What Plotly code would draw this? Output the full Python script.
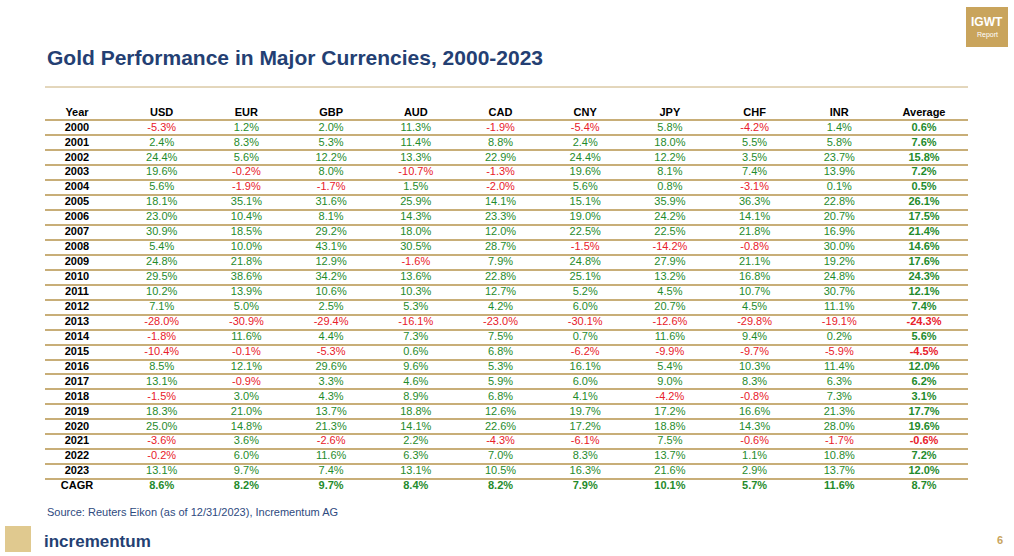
import plotly.graph_objects as go

years = [str(y) for y in range(2000, 2024)] + ["CAGR"]
currencies = ["USD", "EUR", "GBP", "AUD", "CAD", "CNY", "JPY", "CHF", "INR", "Average"]
USD = [-5.3,2.4,24.4,19.6,5.6,18.1,23.0,30.9,5.4,24.8,29.5,10.2,7.1,-28.0,-1.8,-10.4,8.5,13.1,-1.5,18.3,25.0,-3.6,-0.2,13.1,8.6]
EUR = [1.2,8.3,5.6,-0.2,-1.9,35.1,10.4,18.5,10.0,21.8,38.6,13.9,5.0,-30.9,11.6,-0.1,12.1,-0.9,3.0,21.0,14.8,3.6,6.0,9.7,8.2]
GBP = [2.0,5.3,12.2,8.0,-1.7,31.6,8.1,29.2,43.1,12.9,34.2,10.6,2.5,-29.4,4.4,-5.3,29.6,3.3,4.3,13.7,21.3,-2.6,11.6,7.4,9.7]
AUD = [11.3,11.4,13.3,-10.7,1.5,25.9,14.3,18.0,30.5,-1.6,13.6,10.3,5.3,-16.1,7.3,0.6,9.6,4.6,8.9,18.8,14.1,2.2,6.3,13.1,8.4]
CAD = [-1.9,8.8,22.9,-1.3,-2.0,14.1,23.3,12.0,28.7,7.9,22.8,12.7,4.2,-23.0,7.5,6.8,5.3,5.9,6.8,12.6,22.6,-4.3,7.0,10.5,8.2]
CNY = [-5.4,2.4,24.4,19.6,5.6,15.1,19.0,22.5,-1.5,24.8,25.1,5.2,6.0,-30.1,0.7,-6.2,16.1,6.0,4.1,19.7,17.2,-6.1,8.3,16.3,7.9]
JPY = [5.8,18.0,12.2,8.1,0.8,35.9,24.2,22.5,-14.2,27.9,13.2,4.5,20.7,-12.6,11.6,-9.9,5.4,9.0,-4.2,17.2,18.8,7.5,13.7,21.6,10.1]
CHF = [-4.2,5.5,3.5,7.4,-3.1,36.3,14.1,21.8,-0.8,21.1,16.8,10.7,4.5,-29.8,9.4,-9.7,10.3,8.3,-0.8,16.6,14.3,-0.6,1.1,2.9,5.7]
INR = [1.4,5.8,23.7,13.9,0.1,22.8,20.7,16.9,30.0,19.2,24.8,30.7,11.1,-19.1,0.2,-5.9,11.4,6.3,7.3,21.3,28.0,-1.7,10.8,13.7,11.6]
AVG = [0.6,7.6,15.8,7.2,0.5,26.1,17.5,21.4,14.6,17.6,24.3,12.1,7.4,-24.3,5.6,-4.5,12.0,6.2,3.1,17.7,19.6,-0.6,7.2,12.0,8.7]
series = [USD, EUR, GBP, AUD, CAD, CNY, JPY, CHF, INR, AVG]

GREEN = "#1f8b2c"
RED = "#e8202a"
GOLD = "#c8ae78"
NAVY = "#243f73"
FONT = "Liberation Sans, Arial, sans-serif"

fig = go.Figure()
nrows = len(years)
rows = list(range(1, nrows + 1))

fig.add_trace(go.Scatter(x=list(range(11)), y=[0]*11, mode="text",
                         text=["<b>Year</b>"] + [f"<b>{c}</b>" for c in currencies],
                         textfont=dict(family=FONT, size=11, color="black"),
                         hoverinfo="skip", showlegend=False))
fig.add_trace(go.Scatter(x=[0]*nrows, y=rows, mode="text",
                         text=[f"<b>{y}</b>" for y in years],
                         textfont=dict(family=FONT, size=11, color="black"),
                         hoverinfo="skip", showlegend=False))
for ci, vals in enumerate(series):
    txt = []
    for ri, v in enumerate(vals):
        s = f"{v:.1f}%"
        if ci == 9 or ri == nrows - 1:
            s = f"<b>{s}</b>"
        txt.append(s)
    fig.add_trace(go.Scatter(x=[ci + 1]*nrows, y=rows, mode="text", text=txt,
                             textfont=dict(family=FONT, size=11,
                                           color=[RED if v < 0 else GREEN for v in vals]),
                             hoverinfo="skip", showlegend=False))

W, H = 1014, 556
x0, x1 = 45, 968
fig.update_layout(
    width=W, height=H, margin=dict(l=0, r=0, t=0, b=0),
    paper_bgcolor="white", plot_bgcolor="white",
    xaxis=dict(domain=[x0/W, x1/W], range=[(x0-77)/84.7, (x1-77)/84.7],
               showgrid=False, zeroline=False, showticklabels=False, fixedrange=True),
    yaxis=dict(domain=[(H-494)/H, (H-105.5)/H], range=[nrows + 0.5, -0.5],
               tickvals=[i + 0.5 for i in range(nrows + 1)], showticklabels=False,
               showgrid=True, gridcolor=GOLD, gridwidth=2, zeroline=False, fixedrange=True),
    font=dict(family=FONT),
)

fig.add_annotation(text="<b>Gold Performance in Major Currencies, 2000-2023</b>",
                   xref="paper", yref="paper", x=x0/W, y=1-57/H, xanchor="left", yanchor="middle",
                   showarrow=False, font=dict(family=FONT, size=21, color=NAVY))
fig.add_shape(type="line", xref="paper", yref="paper", x0=x0/W, x1=x1/W,
              y0=1-87/H, y1=1-87/H, line=dict(color=GOLD, width=1))
fig.add_shape(type="rect", xref="paper", yref="paper", x0=966/W, x1=1008/W,
              y0=1-47/H, y1=1-7/H, fillcolor="#c9a45c", line=dict(width=0))
fig.add_annotation(text="<b>IGWT</b>", xref="paper", yref="paper", x=987/W, y=1-22/H,
                   xanchor="center", yanchor="middle",
                   showarrow=False, font=dict(family=FONT, size=12, color="white"))
fig.add_annotation(text="Report", xref="paper", yref="paper", x=987/W, y=1-35/H,
                   xanchor="center", yanchor="middle",
                   showarrow=False, font=dict(family=FONT, size=7, color="white"))
fig.add_annotation(text="Source: Reuters Eikon (as of 12/31/2023), Incrementum AG",
                   xref="paper", yref="paper", x=x0/W, y=1-512/H, xanchor="left", yanchor="middle",
                   showarrow=False, font=dict(family=FONT, size=11, color="#2e4a80"))
fig.add_annotation(text="<b>incrementum</b>", xref="paper", yref="paper", x=42/W, y=1-541/H,
                   xanchor="left", yanchor="middle",
                   showarrow=False, font=dict(family=FONT, size=17, color=NAVY))
fig.add_shape(type="rect", xref="paper", yref="paper", x0=5/W, x1=31/W,
              y0=1-552/H, y1=1-526/H, fillcolor="#e0c98f", line=dict(width=0))
fig.add_annotation(text="<b>6</b>", xref="paper", yref="paper", x=1000/W, y=1-540/H,
                   xanchor="center", yanchor="middle",
                   showarrow=False, font=dict(family=FONT, size=11, color="#c9a45c"))

fig.write_html("out.html", config={"displayModeBar": False})
with open("out.html", encoding="utf-8") as f:
    html = f.read()
html = html.replace("<body>", '<body style="margin:0;overflow:hidden">', 1)
with open("out.html", "w", encoding="utf-8") as f:
    f.write(html)
